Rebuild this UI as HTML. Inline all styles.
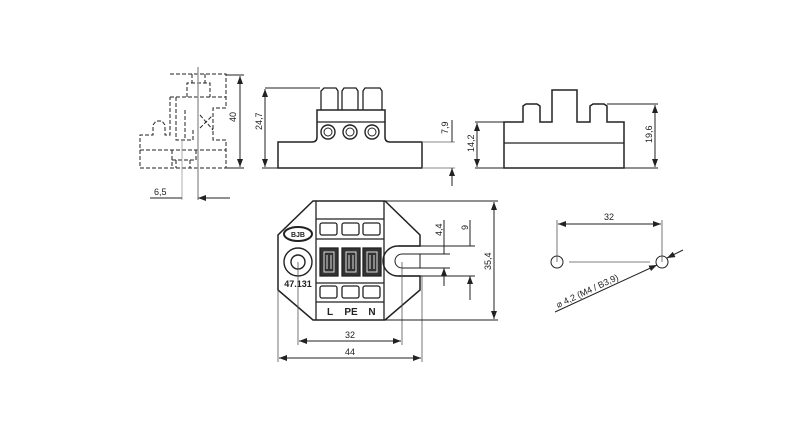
<!DOCTYPE html><html><head><style>body{margin:0;background:#fff}svg{display:block}text{font-family:"Liberation Sans",sans-serif;fill:#222}</style></head><body>
<svg width="800" height="429" viewBox="0 0 800 429" xmlns="http://www.w3.org/2000/svg">
<defs><marker id="a" markerWidth="8" markerHeight="6" refX="8" refY="3" orient="auto-start-reverse" markerUnits="userSpaceOnUse"><path d="M0,0L8,3L0,6z" fill="#222"/></marker></defs>
<g fill="none" stroke="#222" stroke-width="1">
<!-- left dashed view -->
<g stroke-dasharray="4,2">
<path d="M170,74H226V108H213V140H226V168H140V135H153V125L156,121H162L165,125V135H170V97"/>
<path d="M170,97H226M187,97V83H210V97M192,74V83M205,74V83"/>
<path d="M176,97V140H193V128M185,110V140M200,128L213,115M200,115L213,130"/>
<path d="M140,150H226M172,150V168M172,160H196V150M176,160V168M190,160V168"/>
</g>
<path d="M198,67V200" stroke="#999" stroke-width="1.4"/><path d="M182,140V200" stroke="#999" stroke-width=".8"/>
<path d="M150,198H182M230,198H198" marker-end="url(#a)"/>
<text x="154" y="195" font-size="9" stroke="none">6,5</text>
<path d="M226,75H244M226,168H244"/><path d="M240,76V167" marker-start="url(#a)" marker-end="url(#a)"/>
<text transform="translate(236,122) rotate(-90)" font-size="9" stroke="none">40</text>
<!-- side view -->
<path d="M278,142H312Q317,142 317,137V110H385V137Q385,142 390,142H422V168H278Z" stroke-width="1.5"/>
<path d="M317,122H385" stroke-width="1.3"/>
<circle cx="328" cy="132" r="7" stroke-width="1.4"/><circle cx="328" cy="132" r="4"/>
<circle cx="350" cy="132" r="7" stroke-width="1.4"/><circle cx="350" cy="132" r="4"/>
<circle cx="372" cy="132" r="7" stroke-width="1.4"/><circle cx="372" cy="132" r="4"/>
<path d="M321,110V91L324,88H336L338,91V110M342,110V91L344,88H356L358,91V110M363,110V91L365,88H380L382,91V110" stroke-width="1.3"/>
<path d="M265,88H320M262,168H278"/><path d="M265,89V167" marker-start="url(#a)" marker-end="url(#a)"/>
<text transform="translate(262,130) rotate(-90)" font-size="9" stroke="none">24,7</text>
<path d="M422,142H455M422,168H455" stroke="#888"/>
<path d="M452,120V142M452,186V168" marker-end="url(#a)"/>
<text transform="translate(448,134) rotate(-90)" font-size="9" stroke="none">7,9</text>
<!-- right view -->
<path d="M504,122H523V106L526,104H537L540,106V122H552V90H577V122H590V106L593,104H604L607,106V122H624V168H504Z" stroke-width="1.5"/>
<path d="M504,143H624" stroke-width="1.3"/>
<path d="M475,122H504M475,168H504M607,104H658M624,168H658"/>
<path d="M477,123V167" marker-start="url(#a)" marker-end="url(#a)"/>
<text transform="translate(474,152) rotate(-90)" font-size="9" stroke="none">14,2</text>
<path d="M655,105V167" marker-start="url(#a)" marker-end="url(#a)"/>
<text transform="translate(652,143) rotate(-90)" font-size="9" stroke="none">19,6</text>
<!-- top view -->
<path d="M313,201H385L420,235V246H398A15,15 0 0 0 398,276H420V290L385,320H313L278,290V235Z" stroke-width="1.5"/>
<path d="M398,246H420M398,276H420" stroke-width="1.3"/>
<path d="M402,254A7,7 0 0 0 402,268H420V254Z"/>
<path d="M316,201V320M384,201V320M316,219H384M316,239H384M316,283H384M316,302H384" stroke-width="1.3"/>
<g stroke-width="1.3"><rect x="320" y="223" width="17" height="12" rx="2"/><rect x="342" y="223" width="17" height="12" rx="2"/><rect x="363" y="223" width="17" height="12" rx="2"/>
<rect x="320" y="286" width="17" height="12" rx="2"/><rect x="342" y="286" width="17" height="12" rx="2"/><rect x="363" y="286" width="17" height="12" rx="2"/>
<rect x="320" y="248" width="18" height="28" fill="#333"/><rect x="342" y="248" width="18" height="28" fill="#333"/><rect x="363" y="248" width="18" height="28" fill="#333"/></g>
<g stroke="#ddd"><rect x="324" y="252" width="10" height="20"/><rect x="346" y="252" width="10" height="20"/><rect x="367" y="252" width="10" height="20"/><path d="M327,255V269M331,255V269M349,255V269M353,255V269M370,255V269M374,255V269"/></g>
<ellipse cx="298" cy="234" rx="14" ry="7" stroke-width="2"/>
<text x="298" y="237" font-size="7" font-weight="bold" text-anchor="middle" stroke="none">BJB</text>
<circle cx="298" cy="262" r="14" stroke-width="1.4"/><circle cx="298" cy="262" r="7" stroke-width="1.4"/>
<text x="298" y="287" font-size="9" font-weight="bold" text-anchor="middle" stroke="none">47.131</text>
<text x="330" y="315" font-size="10" font-weight="bold" text-anchor="middle" stroke="none">L</text>
<text x="351" y="315" font-size="10" font-weight="bold" text-anchor="middle" stroke="none">PE</text>
<text x="372" y="315" font-size="10" font-weight="bold" text-anchor="middle" stroke="none">N</text>
<path d="M298,262V345M402,262V345M278,290V362M422,276V362" stroke="#555" stroke-width=".8"/>
<path d="M299,341H401" marker-start="url(#a)" marker-end="url(#a)"/>
<text x="350" y="338" font-size="9" text-anchor="middle" stroke="none">32</text>
<path d="M279,358H421" marker-start="url(#a)" marker-end="url(#a)"/>
<text x="350" y="355" font-size="9" text-anchor="middle" stroke="none">44</text>
<path d="M385,201H498M385,320H498M420,246H475M420,276H475M402,254H450M402,268H450"/>
<path d="M494,202V319" marker-start="url(#a)" marker-end="url(#a)"/>
<text transform="translate(491,270) rotate(-90)" font-size="9" stroke="none">35,4</text>
<path d="M444,220V254M444,286V268" marker-end="url(#a)"/>
<text transform="translate(442,236) rotate(-90)" font-size="9" stroke="none">4,4</text>
<path d="M470,220V246M470,300V276" marker-end="url(#a)"/>
<text transform="translate(468,230) rotate(-90)" font-size="9" stroke="none">9</text>
<!-- holes -->
<circle cx="557" cy="262" r="6"/><circle cx="662" cy="262" r="6"/>
<path d="M557,220V262M662,220V262M569,262H650" stroke="#555" stroke-width=".8"/>
<path d="M558,224H661" marker-start="url(#a)" marker-end="url(#a)"/>
<text x="609" y="220" font-size="9" text-anchor="middle" stroke="none">32</text>
<path d="M555,312L657,265" marker-end="url(#a)"/><path d="M683,250L667,258" marker-end="url(#a)"/>
<text transform="translate(558,308) rotate(-25)" font-size="9" stroke="none">⌀ 4,2 (M4 / B3,9)</text>
</g></svg></body></html>
